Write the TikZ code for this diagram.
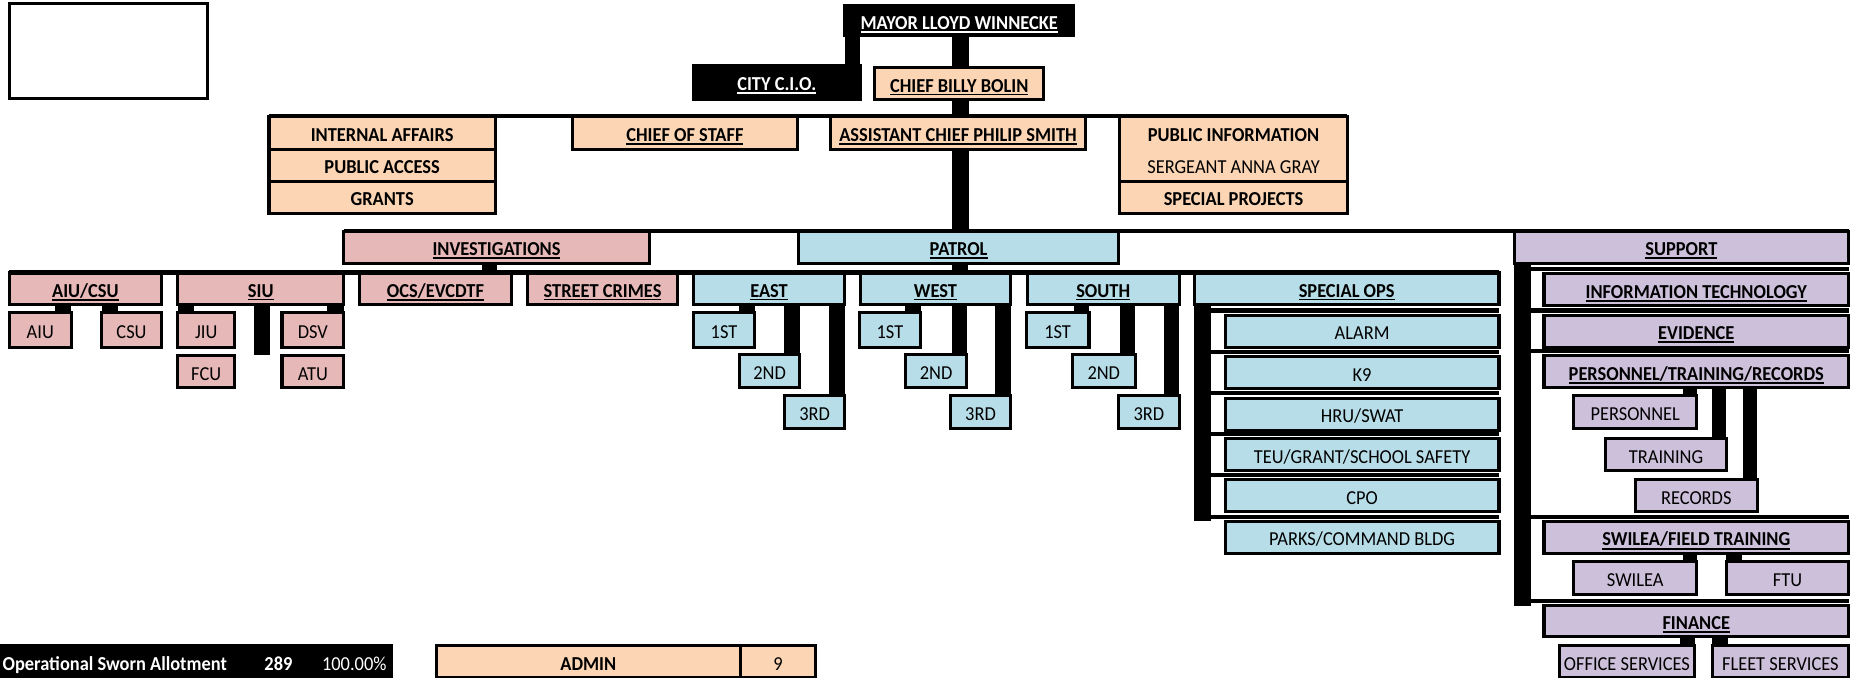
\documentclass[tikz,border=0pt]{standalone}
\usepackage{fontspec}
\setmainfont{Carlito}[FakeStretch=0.93]
\usepackage{xcolor}
\definecolor{peach}{HTML}{FCD5B4}
\definecolor{rose}{HTML}{E6B8B7}
\definecolor{sky}{HTML}{B7DEE8}
\definecolor{lilac}{HTML}{CCC0DA}
\newcommand{\boxfont}{\fontsize{16.7}{19}\selectfont}
\newcommand{\undl}[1]{\leavevmode\vtop{\hbox{#1}\kern1.2pt\hrule height 1.4pt}}

\begin{document}
\begin{tikzpicture}[x=1pt, y=-1pt,
    box/.style={draw, line width=2.6pt, anchor=north west, inner sep=0pt, outer sep=0pt,
        minimum height=27pt, text height=14.5pt, text depth=0pt, font=\boxfont\bfseries},
    thin/.style={font=\boxfont},
    lbl/.style={inner sep=0pt, text height=14.5pt, text depth=0pt},
    hline/.style={line width=3.5pt}]
\useasboundingbox (0,0) rectangle (1568,572);

\node[box, fill=white, minimum width=167, minimum height=80] (logo) at (8,3) {};
\node[box, fill=black, text=white, minimum width=193, minimum height=25] (mayor) at (713,5) {\undl{MAYOR LLOYD WINNECKE}};
\node[box, fill=black, text=white, minimum width=141, minimum height=29] (cio) at (585,55) {\undl{CITY C.I.O.}};
\node[box, fill=peach, minimum width=143] (chief) at (738,57) {\undl{CHIEF BILLY BOLIN}};
\fill (mayor.south west) rectangle (cio.north east);
\fill ([xshift=-6]mayor.south) rectangle ([xshift=8]chief.north);

\node[box, fill=peach, minimum width=191, minimum height=28] (ia) at (227,98) {INTERNAL AFFAIRS};
\node[box, fill=peach, minimum width=191] (pa) at (227,126) {PUBLIC ACCESS};
\node[box, fill=peach, minimum width=191] (gr) at (227,153) {GRANTS};
\node[box, fill=peach, minimum width=190, minimum height=28] (cos) at (483,98) {\undl{CHIEF OF STAFF}};
\node[box, fill=peach, minimum width=215, minimum height=28] (acps) at (701,98) {\undl{ASSISTANT CHIEF PHILIP SMITH}};
\node[box, fill=peach, minimum width=192, minimum height=55] (pio) at (945,98) {};
\node[box, draw=none, minimum width=192, minimum height=28] (piot) at (945,98) {PUBLIC INFORMATION};
\node[box, draw=none, thin, minimum width=192] (pios) at (945,126) {SERGEANT ANNA GRAY};
\node[box, fill=peach, minimum width=192] (spj) at (945,153) {SPECIAL PROJECTS};
\draw[hline] (ia.north west) -- (pio.north east);
\fill ([xshift=-6]chief.south) rectangle ([xshift=8]acps.north -| chief.south);

\node[box, fill=rose, minimum width=258] (inv) at (290,195) {\undl{INVESTIGATIONS}};
\node[box, fill=sky, minimum width=270] (pat) at (674,195) {\undl{PATROL}};
\node[box, fill=lilac, minimum width=282] (sup) at (1278,195) {\undl{SUPPORT}};
\draw[hline] (inv.north west) -- (sup.north east);
\fill ([xshift=-6]acps.south -| chief.south) rectangle ([xshift=8]pat.north -| chief.south);

\node[box, fill=rose, minimum width=128] (aiucsu) at (8,230) {\undl{AIU/CSU}};
\node[box, fill=rose, minimum width=140] (siu) at (150,230) {\undl{SIU}};
\node[box, fill=rose, minimum width=129] (ocs) at (303,230) {\undl{OCS/EVCDTF}};
\node[box, fill=rose, minimum width=127] (sc) at (445,230) {\undl{STREET CRIMES}};
\node[box, fill=sky, minimum width=128] (east) at (585,230) {\undl{EAST}};
\node[box, fill=sky, minimum width=127] (west) at (726,230) {\undl{WEST}};
\node[box, fill=sky, minimum width=128] (south) at (867,230) {\undl{SOUTH}};
\node[box, fill=sky, minimum width=257] (spops) at (1008,230) {\undl{SPECIAL OPS}};
\draw[hline] (aiucsu.north west) -- (spops.north east);
\fill ([xshift=-12]inv.south) rectangle (ocs.north -| inv.south);
\fill ([xshift=-6]pat.south) rectangle ([xshift=8]east.north -| pat.south);

\node[box, thin, fill=rose, minimum width=52, minimum height=29] (aiu) at (8,264) {AIU};
\node[box, thin, fill=rose, minimum width=50, minimum height=29] (csu) at (86,264) {CSU};
\fill (aiu.north east |- aiucsu.south) rectangle ([xshift=-14]aiu.north east);
\fill (csu.north west |- aiucsu.south) rectangle ([xshift=14]csu.north west);

\node[box, thin, fill=rose, minimum width=48, minimum height=29] (jiu) at (150,264) {JIU};
\node[box, thin, fill=rose, minimum width=52, minimum height=29] (dsv) at (238,264) {DSV};
\node[box, thin, fill=rose, minimum width=48] (fcu) at (150,300) {FCU};
\node[box, thin, fill=rose, minimum width=52] (atu) at (238,300) {ATU};
\fill (jiu.north west |- siu.south) rectangle ([xshift=14]jiu.north west);
\fill (dsv.north east |- siu.south) rectangle ([xshift=-14]dsv.north east);
\fill ([xshift=-6]siu.south) rectangle ([xshift=8]fcu.north -| siu.south);

\node[box, thin, fill=sky, minimum width=52, minimum height=29] (e1) at (585,264) {1ST};
\node[box, thin, fill=sky, minimum width=51, minimum height=28] (e2) at (624,299) {2ND};
\node[box, thin, fill=sky, minimum width=51, minimum height=28] (e3) at (662,334) {3RD};
\fill (e1.north east |- east.south) rectangle ([xshift=-13]e1.north east);
\fill ([xshift=-13]e2.north east |- east.south) rectangle (e2.north east);
\fill ([xshift=-13]e3.north east |- east.south) rectangle (e3.north east);

\node[box, thin, fill=sky, minimum width=52, minimum height=29] (w1) at (725,264) {1ST};
\node[box, thin, fill=sky, minimum width=52, minimum height=28] (w2) at (764,299) {2ND};
\node[box, thin, fill=sky, minimum width=51, minimum height=28] (w3) at (802,334) {3RD};
\fill (w1.north east |- west.south) rectangle ([xshift=-13]w1.north east);
\fill ([xshift=-13]w2.north east |- west.south) rectangle (w2.north east);
\fill ([xshift=-13]w3.north east |- west.south) rectangle (w3.north east);

\node[box, thin, fill=sky, minimum width=53, minimum height=29] (s1) at (866,264) {1ST};
\node[box, thin, fill=sky, minimum width=53, minimum height=28] (s2) at (905,299) {2ND};
\node[box, thin, fill=sky, minimum width=51, minimum height=28] (s3) at (944,334) {3RD};
\fill (s1.north east |- south.south) rectangle ([xshift=-13]s1.north east);
\fill ([xshift=-13]s2.north east |- south.south) rectangle (s2.north east);
\fill ([xshift=-13]s3.north east |- south.south) rectangle (s3.north east);

\node[box, thin, fill=sky, minimum width=231] (alarm) at (1034,266) {ALARM};
\node[box, thin, fill=sky, minimum width=231] (k9) at (1034,301) {K9};
\node[box, thin, fill=sky, minimum width=231] (hru) at (1034,336) {HRU/SWAT};
\node[box, thin, fill=sky, minimum width=231] (teu) at (1034,370) {TEU/GRANT/SCHOOL SAFETY};
\node[box, thin, fill=sky, minimum width=231] (cpo) at (1034,405) {CPO};
\node[box, thin, fill=sky, minimum width=231] (parks) at (1034,440) {PARKS/COMMAND BLDG};
\fill (spops.south west) rectangle ([xshift=14]parks.north -| spops.south west);
\draw[hline] ([yshift=4]alarm.north -| spops.south west) -- ([yshift=4]alarm.north east);
\draw[hline] ([yshift=4]k9.north -| spops.south west) -- ([yshift=4]k9.north east);
\draw[hline] ([yshift=4]hru.north -| spops.south west) -- ([yshift=4]hru.north east);
\draw[hline] ([yshift=4]teu.north -| spops.south west) -- ([yshift=4]teu.north east);
\draw[hline] ([yshift=4]cpo.north -| spops.south west) -- ([yshift=4]cpo.north east);
\draw[hline] ([yshift=4]parks.north -| spops.south west) -- ([yshift=4]parks.north east);

\node[box, fill=lilac, minimum width=257] (it) at (1303,231) {\undl{INFORMATION TECHNOLOGY}};
\node[box, fill=lilac, minimum width=257] (ev) at (1303,266) {\undl{EVIDENCE}};
\node[box, fill=lilac, minimum width=257] (ptr) at (1303,300) {\undl{PERSONNEL/TRAINING/RECORDS}};
\node[box, thin, fill=lilac, minimum width=104, minimum height=28] (pers) at (1328,334) {PERSONNEL};
\node[box, thin, fill=lilac, minimum width=102] (trn) at (1355,370) {TRAINING};
\node[box, thin, fill=lilac, minimum width=103] (rec) at (1380,405) {RECORDS};
\fill (pers.north east |- ptr.south) rectangle ([xshift=-12]pers.north east);
\fill ([xshift=-12]trn.north east |- ptr.south) rectangle (trn.north east);
\fill ([xshift=-12]rec.north east |- ptr.south) rectangle (rec.north east);
\node[box, fill=lilac, minimum width=257] (sft) at (1303,440) {\undl{SWILEA/FIELD TRAINING}};
\node[box, thin, fill=lilac, minimum width=104, minimum height=28] (swilea) at (1328,474) {SWILEA};
\node[box, thin, fill=lilac, minimum width=103, minimum height=28] (ftu) at (1457,474) {FTU};
\fill (swilea.north east |- sft.south) rectangle ([xshift=-12]swilea.north east);
\fill (ftu.north west |- sft.south) rectangle ([xshift=13]ftu.north west);
\node[box, fill=lilac, minimum width=257, minimum height=26] (fin) at (1303,511) {\undl{FINANCE}};
\node[box, thin, fill=lilac, minimum width=114] (offs) at (1316,545) {OFFICE SERVICES};
\node[box, thin, fill=lilac, minimum width=115] (flts) at (1445,545) {FLEET SERVICES};
\fill (offs.north east |- fin.south) rectangle ([xshift=-12]offs.north east);
\fill (flts.north west |- fin.south) rectangle ([xshift=13]flts.north west);
\fill (sup.south west) rectangle ([xshift=14]fin.north -| sup.south west);
\draw[hline] ([yshift=4]it.north -| sup.south west) -- ([yshift=4]it.north east);
\draw[hline] ([yshift=4]ev.north -| sup.south west) -- ([yshift=4]ev.north east);
\draw[hline] ([yshift=4]ptr.north -| sup.south west) -- ([yshift=4]ptr.north east);
\draw[hline] ([yshift=4]sft.north -| sup.south west) -- ([yshift=4]sft.north east);
\draw[hline] ([yshift=4]fin.north -| sup.south west) -- ([yshift=4]fin.north east);

\node[box, fill=black, minimum width=330] (osa) at (0,545) {};
\node[lbl, anchor=west, text=white, font=\boxfont\bfseries] (osat) at ([xshift=2]osa.west) {Operational Sworn Allotment};
\node[lbl, text=white, font=\boxfont\bfseries] (osan) at (235,558.5) {289};
\node[lbl, text=white, font=\boxfont] (osap) at (299,558.5) {100.00\%};
\node[box, fill=peach, minimum width=257] (admin) at (368,545) {ADMIN};
\node[box, thin, fill=peach, minimum width=63] (admn) at (625,545) {9};
\end{tikzpicture}
\end{document}
